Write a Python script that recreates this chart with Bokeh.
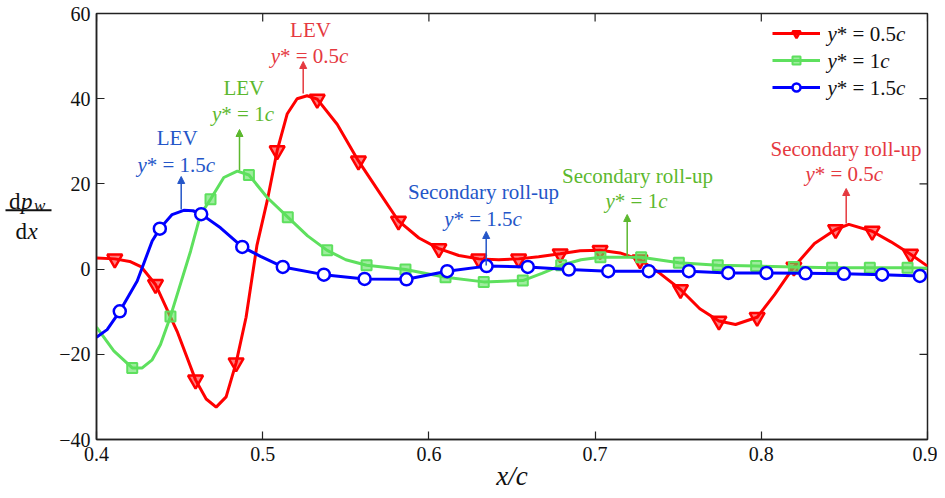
import math
from bokeh.plotting import figure
from bokeh.layouts import row
from bokeh.models import (Range1d, FixedTicker, Label, Arrow, NormalHead,
                          Legend, LegendItem)
from bokeh.core.properties import value
from bokeh.embed import file_html
from bokeh.resources import INLINE

# ---------------- data ----------------
x_ticks = [0.4, 0.5, 0.6, 0.7, 0.8, 0.9]
x_tick_labels = ["0.4", "0.5", "0.6", "0.7", "0.8", "0.9"]
y_ticks = [-40, -20, 0, 20, 40, 60]
y_tick_labels = ["\u221240", "\u221220", "0", "20", "40", "60"]

series_names = ["y* = 0.5c", "y* = 1c", "y* = 1.5c"]

# y* = 0.5c (red) curve
red_x = [0.400, 0.411, 0.420, 0.427, 0.4355, 0.4485, 0.4596, 0.466, 0.472, 0.478, 0.484,
         0.490, 0.4965, 0.5027, 0.5087, 0.5147, 0.5207, 0.5267, 0.5328, 0.5448, 0.5576,
         0.5709, 0.5817, 0.594, 0.606, 0.618, 0.630, 0.642, 0.654, 0.666, 0.679, 0.691,
         0.703, 0.715, 0.727, 0.739, 0.7514, 0.763, 0.7745, 0.7845, 0.7975, 0.808, 0.8196,
         0.832, 0.8447, 0.8527, 0.8667, 0.878, 0.8898, 0.900]
red_y = [2.6, 2.4, 1.8, 0.5, -3.6, -14.6, -26.0, -30.5, -32.4, -30.0, -22.0,
         -11.3, 5.5, 16.0, 27.8, 36.4, 40.0, 40.7, 39.9, 34.0, 25.4,
         17.6, 11.3, 7.3, 4.8, 3.2, 2.4, 2.2, 2.4, 2.9, 3.6, 4.3,
         4.4, 3.8, 2.2, -1.0, -4.8, -9.3, -12.2, -13.0, -11.3, -6.0, 0.5,
         6.0, 9.3, 10.5, 8.9, 6.4, 3.5, 0.7]
red_mx = [0.411, 0.4355, 0.4596, 0.484, 0.5087, 0.5328, 0.5576, 0.5817, 0.606, 0.630, 0.654,
          0.679, 0.703, 0.727, 0.7514, 0.7745, 0.7975, 0.8196, 0.8447, 0.8667, 0.8898]
red_my = [2.4, -3.6, -26.0, -22.0, 27.8, 39.9, 25.4, 11.3, 4.8, 2.4, 2.4,
          3.6, 4.4, 2.2, -4.8, -12.2, -11.3, 0.5, 9.3, 8.9, 3.5]

# y* = 1c (green) curve
green_x = [0.400, 0.4104, 0.4215, 0.4275, 0.4335, 0.4385, 0.4445, 0.4566, 0.4626, 0.4686,
           0.4766, 0.4847, 0.4917, 0.5027, 0.5151, 0.527, 0.5388, 0.550, 0.5625, 0.5859,
           0.610, 0.633, 0.6565, 0.668, 0.6796, 0.6915, 0.7032, 0.7277, 0.7504, 0.7738,
           0.7969, 0.8196, 0.8426, 0.8653, 0.888, 0.900]
green_y = [-13.6, -19.2, -23.2, -23.2, -21.3, -17.7, -11.1, 4.2, 12.8, 16.4,
           21.5, 23.0, 22.1, 16.8, 12.2, 7.8, 4.4, 2.2, 0.9, -0.1,
           -1.9, -3.0, -2.7, -1.0, 0.9, 2.2, 2.8, 2.8, 1.5, 0.9,
           0.7, 0.5, 0.3, 0.3, 0.3, 0.2]
green_mx = [0.4215, 0.4445, 0.4686, 0.4917, 0.5151, 0.5388, 0.5625, 0.5859, 0.610, 0.633,
            0.6565, 0.6796, 0.7032, 0.7277, 0.7504, 0.7738, 0.7969, 0.8196, 0.8426, 0.8653, 0.888]
green_my = [-23.2, -11.1, 16.4, 22.1, 12.2, 4.4, 0.9, -0.1, -1.9, -3.0,
            -2.7, 0.9, 2.8, 2.8, 1.5, 0.9, 0.7, 0.5, 0.3, 0.3, 0.3]

# y* = 1.5c (blue) curve
blue_x = [0.400, 0.4064, 0.414, 0.4245, 0.4335, 0.4381, 0.4455, 0.4525, 0.458, 0.463,
          0.4746, 0.4877, 0.4987, 0.5121, 0.5368, 0.5613, 0.5865, 0.611, 0.6347, 0.6595,
          0.6842, 0.7079, 0.7323, 0.7564, 0.7801, 0.8031, 0.8266, 0.8497, 0.8727, 0.8954, 0.900]
blue_y = [-16.0, -14.2, -9.9, -2.8, 6.6, 9.5, 12.8, 13.8, 13.7, 12.9,
          9.7, 5.2, 3.0, 0.5, -1.3, -2.3, -2.4, -0.5, 0.7, 0.5,
          -0.1, -0.5, -0.5, -0.5, -0.9, -0.9, -1.0, -1.1, -1.3, -1.6, -1.6]
blue_mx = [0.414, 0.4381, 0.463, 0.4877, 0.5121, 0.5368, 0.5613, 0.5865, 0.611, 0.6347,
           0.6595, 0.6842, 0.7079, 0.7323, 0.7564, 0.7801, 0.8031, 0.8266, 0.8497, 0.8727, 0.8954]
blue_my = [-9.9, 9.5, 12.9, 5.2, 0.5, -1.3, -2.3, -2.4, -0.5, 0.7,
           0.5, -0.1, -0.5, -0.5, -0.5, -0.9, -0.9, -1.0, -1.1, -1.3, -1.6]

# ---------------- styling ----------------
FONT = "Liberation Serif"
RED, GREEN, BLUE = "#ff0000", "#5ee05e", "#0000ff"
RED_T, GREEN_T, BLUE_T = "#e5393f", "#5cb82e", "#2456c8"
AX = "#222222"
INK = "#111111"

LW = 54                      # width of the strip that holds the y title
H = 496
W = 937 - LW
FL, FR, FT, FB = 42, 10, 13, 57   # borders around the frame
X0, X1, Y0, Y1 = 0.4, 0.9, -40, 60
FW, FH = W - FL - FR, H - FT - FB


def px2x(px):   # page pixel -> data x of the main plot
    return X0 + (px - LW - FL) / FW * (X1 - X0)


def py2y(py):
    return Y1 - (py - FT) / FH * (Y1 - Y0)


# ---------------- y title strip ----------------
yl = figure(width=LW, height=H, output_backend="svg", toolbar_location=None,
            x_range=Range1d(0, LW), y_range=Range1d(H, 0),
            x_axis_location=None, y_axis_location=None, min_border=0,
            min_border_left=0, min_border_right=0, min_border_top=0, min_border_bottom=0,
            background_fill_color="white", border_fill_color="white")
yl.grid.visible = False
yl.outline_line_color = None


def ytxt(x, y, t, size, style="normal"):
    yl.text(x=[x], y=[y], text=[t], text_font=value(FONT), text_font_size=f"{size}px",
            text_font_style=style, text_color=INK, text_align="left",
            text_baseline="alphabetic")


ytxt(8.5, 219, "d", 23)
ytxt(20.5, 219, "p", 23, "italic")
ytxt(33.5, 223, "w", 17, "italic")
yl.line(x=[5, 51], y=[229, 229], line_color=INK, line_width=2)
ytxt(15, 253.5, "d", 23)
ytxt(27, 253.5, "x", 23, "italic")

# ---------------- main plot ----------------
p = figure(width=W, height=H, output_backend="svg", toolbar_location=None,
           x_range=Range1d(X0, X1), y_range=Range1d(Y0, Y1),
           min_border_left=FL, min_border_right=FR, min_border_top=FT, min_border_bottom=FB,
           background_fill_color="white", border_fill_color="white")
p.grid.visible = False
p.outline_line_color = AX
p.outline_line_width = 1.5

for ax, ticks, labels in ((p.xaxis[0], x_ticks, x_tick_labels), (p.yaxis[0], y_ticks, y_tick_labels)):
    ax.ticker = FixedTicker(ticks=ticks)
    ax.major_label_overrides = {t: l for t, l in zip(ticks, labels)}
    ax.major_tick_in = 8
    ax.major_tick_out = 0
    ax.minor_tick_line_color = None
    ax.axis_line_color = AX
    ax.axis_line_width = 1.5
    ax.major_tick_line_color = AX
    ax.major_tick_line_width = 1.2
    ax.major_label_text_font = FONT
    ax.major_label_text_font_size = "20px"
    ax.major_label_text_color = INK
p.xaxis[0].major_label_standoff = 7
p.yaxis[0].major_label_standoff = 6
p.xaxis[0].axis_label = "x/c"
p.xaxis[0].axis_label_text_font = FONT
p.xaxis[0].axis_label_text_font_style = "italic"
p.xaxis[0].axis_label_text_font_size = "27px"
p.xaxis[0].axis_label_text_color = INK
p.xaxis[0].axis_label_standoff = -3

# mirrored inward ticks on the top and right edges
p.ray(x=x_ticks, y=[Y1] * len(x_ticks), length=8, length_units="screen",
      angle=-math.pi / 2, line_color=AX, line_width=1.2)
p.ray(x=[X1] * len(y_ticks), y=y_ticks, length=8, length_units="screen",
      angle=math.pi, line_color=AX, line_width=1.2)

# ---------------- curves ----------------
r_red_l = p.line(red_x, red_y, line_color=RED, line_width=3)
r_red_m = p.scatter(red_mx, red_my, marker="inverted_triangle", size=15, line_color=RED,
                    line_width=2.5, fill_color=RED, fill_alpha=0.5)
r_green_l = p.line(green_x, green_y, line_color=GREEN, line_width=3)
r_green_m = p.scatter(green_mx, green_my, marker="square", size=10, line_color=GREEN,
                      line_width=2, fill_color=GREEN, fill_alpha=0.6)
r_blue_l = p.line(blue_x, blue_y, line_color=BLUE, line_width=3)
r_blue_m = p.scatter(blue_mx, blue_my, marker="circle", size=12, line_color=BLUE,
                     line_width=2.5, fill_color="white")

legend = Legend(items=[LegendItem(label="", renderers=[r_red_l, r_red_m]),
                       LegendItem(label="", renderers=[r_green_l, r_green_m]),
                       LegendItem(label="", renderers=[r_blue_l, r_blue_m])],
                location=(676, 342), padding=0, margin=0, spacing=7,
                glyph_width=48, glyph_height=20, label_height=20, label_width=0,
                label_standoff=0, border_line_alpha=0, background_fill_alpha=0)
p.add_layout(legend, "center")

# ---------------- text helpers ----------------
CW = {"*": 0.5, " ": 0.25, "=": 0.564, ".": 0.25, "y": 0.444, "c": 0.444}
for d in "0123456789":
    CW[d] = 0.5


def twidth(s, size):
    return sum(CW.get(ch, 0.5) for ch in s) * size


def ystar(x, y, num, color, size=21, align="center"):
    parts = [("y", "italic"), ("* = " + num, "normal"), ("c", "italic")]
    total = sum(twidth(t, size) for t, _ in parts)
    off = -total / 2 if align == "center" else 0
    for t, st in parts:
        p.add_layout(Label(x=x, y=y, x_offset=off, text=t, text_align="left",
                           text_baseline="middle", text_font=FONT, text_font_style=st,
                           text_font_size=f"{size}px", text_color=color))
        off += twidth(t, size)


def text(x, y, t, color, size=21, style="normal", align="center", baseline="middle"):
    p.add_layout(Label(x=x, y=y, text=t, text_align=align, text_baseline=baseline,
                       text_font=FONT, text_font_style=style, text_font_size=f"{size}px",
                       text_color=color))


def arrow(x, y0, y1, color):
    p.add_layout(Arrow(end=NormalHead(size=7, fill_color=color, line_color=color, line_width=1),
                       x_start=x, y_start=y0, x_end=x, y_end=y1,
                       line_color=color, line_width=1.5))


# legend texts
for name, num, py in zip(series_names, ["0.5", "1", "1.5"], [33, 60, 87]):
    ystar(px2x(827), py2y(py), num, INK, align="left")

# annotations
text(px2x(310), py2y(29.3), "LEV", RED_T)
ystar(px2x(309), py2y(55), "0.5", RED_T)
arrow(px2x(302.7), py2y(93), py2y(61), RED_T)

text(px2x(243.3), py2y(87.3), "LEV", GREEN_T)
ystar(px2x(242.5), py2y(113.3), "1", GREEN_T)
arrow(px2x(239), py2y(170), py2y(129), GREEN_T)

text(px2x(176.7), py2y(137.3), "LEV", BLUE_T)
ystar(px2x(175.8), py2y(164), "1.5", BLUE_T)
arrow(px2x(180.7), py2y(209), py2y(176), BLUE_T)

text(px2x(483), py2y(191.7), "Secondary roll-up", BLUE_T)
ystar(px2x(482.5), py2y(218.3), "1.5", BLUE_T)
arrow(px2x(485.7), py2y(265), py2y(231), BLUE_T)

text(px2x(637), py2y(175), "Secondary roll-up", GREEN_T)
ystar(px2x(636), py2y(200), "1", GREEN_T)
arrow(px2x(626.7), py2y(256), py2y(214), GREEN_T)

text(px2x(845.5), py2y(148.3), "Secondary roll-up", RED_T)
ystar(px2x(843.8), py2y(173.3), "0.5", RED_T)
arrow(px2x(845.7), py2y(223), py2y(188), RED_T)

layout = row(yl, p, spacing=0)
open("out.html", "w").write(file_html(layout, INLINE))
